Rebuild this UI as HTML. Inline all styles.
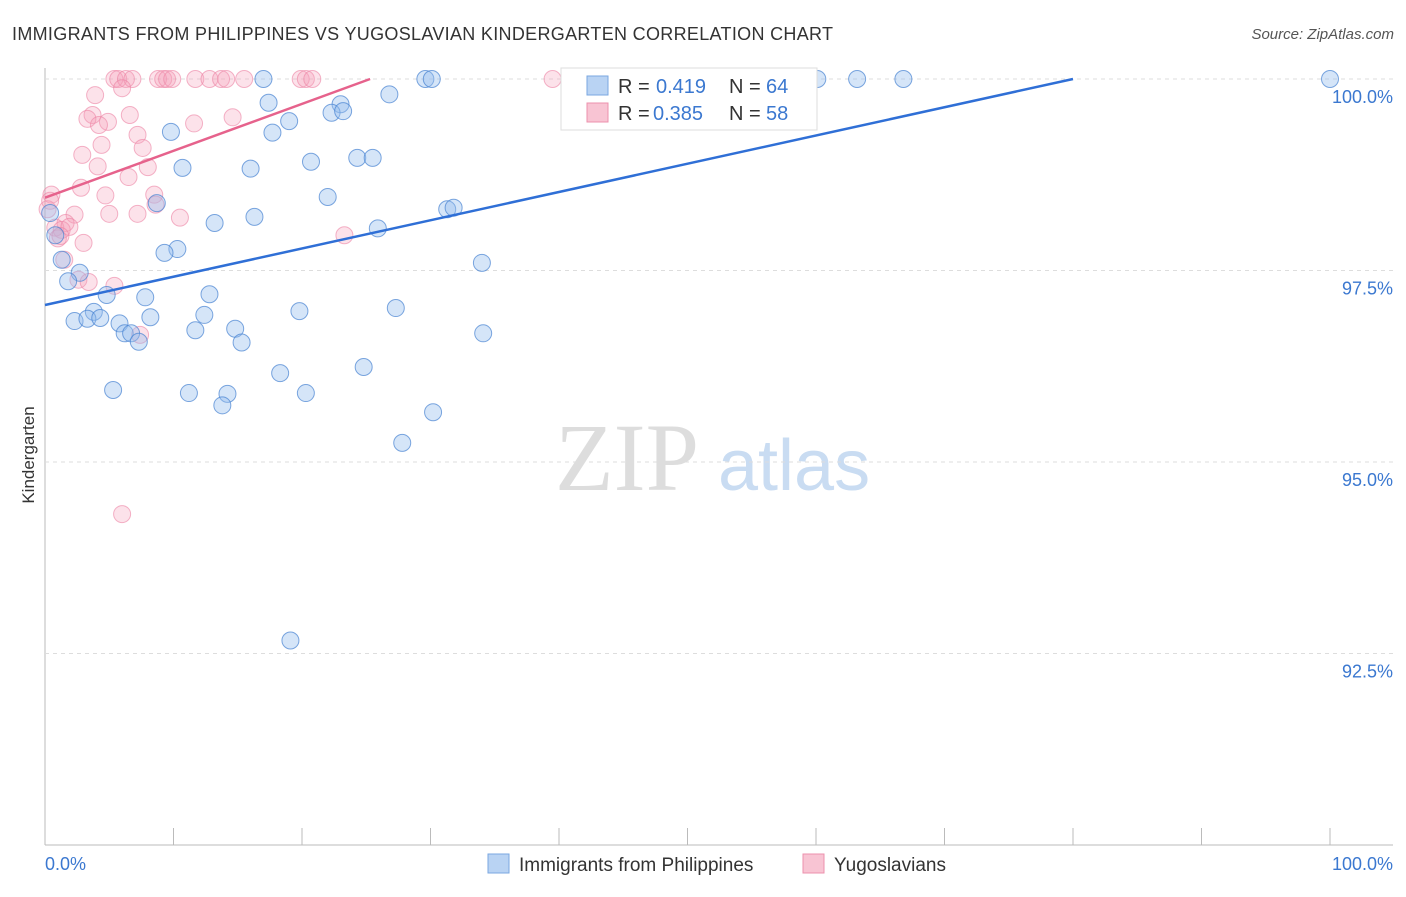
<!DOCTYPE html>
<html><head><meta charset="utf-8"><style>
body{margin:0;background:#fff;font-family:"Liberation Sans",sans-serif}
</style></head><body>
<svg id="c" width="1406" height="892" xmlns="http://www.w3.org/2000/svg">
<text x="12" y="40" font-size="18" fill="#333" textLength="821">IMMIGRANTS FROM PHILIPPINES VS YUGOSLAVIAN KINDERGARTEN CORRELATION CHART</text>
<text x="1394" y="39" font-size="15" fill="#555" font-style="italic" text-anchor="end">Source: ZipAtlas.com</text>
<text x="555" y="490" font-size="96" fill="#ddd" font-family="Liberation Serif,serif">ZIP</text>
<text x="718" y="490" font-size="72" fill="#c9dcf2">atlas</text>
<text x="34" y="455" font-size="17" fill="#333" transform="rotate(-90 34 455)" text-anchor="middle">Kindergarten</text>
<g id="grid"></g><g id="pts"></g><g id="lines"></g>
<g>
<rect x="561" y="68" width="256" height="62" fill="#fff" stroke="#ddd"/>
<rect x="587" y="76" width="21" height="19" fill="#b9d3f3" stroke="#7aa7e0"/>
<text x="618" y="93" font-size="20" fill="#333">R =</text><text x="656" y="93" font-size="20" fill="#3b78d0">0.419</text>
<text x="729" y="93" font-size="20" fill="#333">N =</text><text x="766" y="93" font-size="20" fill="#3b78d0">64</text>
<rect x="587" y="103" width="21" height="19" fill="#f8c4d3" stroke="#ec91ad"/>
<text x="618" y="120" font-size="20" fill="#333">R =</text><text x="653" y="120" font-size="20" fill="#3b78d0">0.385</text>
<text x="729" y="120" font-size="20" fill="#333">N =</text><text x="766" y="120" font-size="20" fill="#3b78d0">58</text>
</g>
<g>
<rect x="488" y="854" width="21" height="19" fill="#b9d3f3" stroke="#7aa7e0"/>
<text x="519" y="871" font-size="19" fill="#333">Immigrants from Philippines</text>
<rect x="803" y="854" width="21" height="19" fill="#f8c4d3" stroke="#ec91ad"/>
<text x="834" y="871" font-size="19" fill="#333">Yugoslavians</text>
</g>
<text x="45" y="870" font-size="18" fill="#3b78d0">0.0%</text>
<text x="1393" y="870" font-size="18" fill="#3b78d0" text-anchor="end">100.0%</text>
</svg>
<script>
const yTicks=[100,97.5,95,92.5];
const yTickLabels=["100.0%","97.5%","95.0%","92.5%"];
const blueX=[17,29.6,30.1,60.1,63.2,66.8,100,17.4,26.8,23,22.3,23.2,19,17.7,9.8,20.7,24.3,25.5,10.7,16,22,8.7,31.3,31.8,13.2,16.3,25.9,0.8,10.3,9.3,1.3,34,2.7,1.8,4.8,7.8,12.8,3.8,12.4,19.8,27.3,2.3,3.3,4.3,5.8,8.2,11.7,14.8,6.2,6.7,7.3,15.3,34.1,24.8,18.3,5.3,11.2,14.2,20.3,13.8,30.2,27.8,19.1,0.4];
const blueY=[100,100,100,100,100,100,100,99.69,99.8,99.67,99.56,99.58,99.45,99.3,99.31,98.92,98.97,98.97,98.84,98.83,98.46,98.38,98.3,98.32,98.12,98.2,98.05,97.96,97.78,97.73,97.64,97.6,97.47,97.36,97.18,97.15,97.19,96.96,96.92,96.97,97.01,96.84,96.87,96.88,96.81,96.89,96.72,96.74,96.68,96.68,96.57,96.56,96.68,96.24,96.16,95.94,95.9,95.89,95.9,95.74,95.65,95.25,92.67,98.25];
const pinkX=[5.4,5.7,6.3,6.8,8.8,9.2,9.5,9.9,11.7,12.8,13.7,14.1,15.5,19.9,20.3,20.8,39.5,6,3.9,3.7,3.3,6.6,4.9,4.2,11.6,14.6,7.2,4.4,2.9,7.6,4.1,8,6.5,2.8,0.5,4.7,8.5,0.2,2.3,7.2,5,10.5,8.6,23.3,1.6,0.8,1.3,1.9,1,3,1.5,2.6,5.4,3.4,7.4,6,0.4,1.2];
const pinkY=[100,100,100,100,100,100,100,100,100,100,100,100,100,100,100,100,100,99.88,99.79,99.53,99.48,99.53,99.44,99.4,99.42,99.5,99.27,99.14,99.01,99.1,98.86,98.85,98.72,98.58,98.49,98.48,98.49,98.3,98.23,98.24,98.24,98.19,98.36,97.96,98.12,98.06,98.03,98.07,97.92,97.86,97.64,97.38,97.3,97.35,96.66,94.32,98.41,97.95];
const blueLine=[[0,97.05],[80,100]];
const pinkLine=[[0,98.45],[25.3,100]];
const X=v=>45+v*12.85, Y=v=>79+(100-v)*76.6;
const NS="http://www.w3.org/2000/svg";
function mk(t,a,p){const e=document.createElementNS(NS,t);for(const k in a)e.setAttribute(k,a[k]);p.appendChild(e);return e;}
const g=document.getElementById('grid');
mk('line',{x1:45,y1:68,x2:45,y2:845,stroke:'#bbb'},g);
mk('line',{x1:45,y1:845,x2:1393,y2:845,stroke:'#bbb'},g);
for(let i=1;i<=10;i++){const l=mk('line',{x1:X(i*10),y1:828,x2:X(i*10),y2:845,stroke:'#bbb'},g);

}
yTicks.forEach((v,i)=>{const l=mk('line',{x1:45,y1:Y(v),x2:1393,y2:Y(v),stroke:'#ddd','stroke-dasharray':'4,4'},g);


const t=mk('text',{x:1393,y:Y(v)+24,'font-size':18,fill:'#3b78d0','text-anchor':'end'},g);t.textContent=yTickLabels[i];

});
const p=document.getElementById('pts');
pinkX.forEach((v,i)=>{const c=mk('circle',{cx:X(v),cy:Y(pinkY[i]),r:8.5,fill:'rgba(244,160,185,0.3)',stroke:'rgba(236,130,163,0.6)','stroke-width':1},p);

});
blueX.forEach((v,i)=>{const c=mk('circle',{cx:X(v),cy:Y(blueY[i]),r:8.5,fill:'rgba(150,190,238,0.4)',stroke:'rgba(70,130,210,0.7)','stroke-width':1},p);

});
const L=document.getElementById('lines');
const bl=mk('line',{x1:X(blueLine[0][0]),y1:Y(blueLine[0][1]),x2:X(blueLine[1][0]),y2:Y(blueLine[1][1]),stroke:'#2f6fd6','stroke-width':2.5},L);


const pl=mk('line',{x1:X(pinkLine[0][0]),y1:Y(pinkLine[0][1]),x2:X(pinkLine[1][0]),y2:Y(pinkLine[1][1]),stroke:'#e6628c','stroke-width':2.5},L);


</script>
</body></html>
